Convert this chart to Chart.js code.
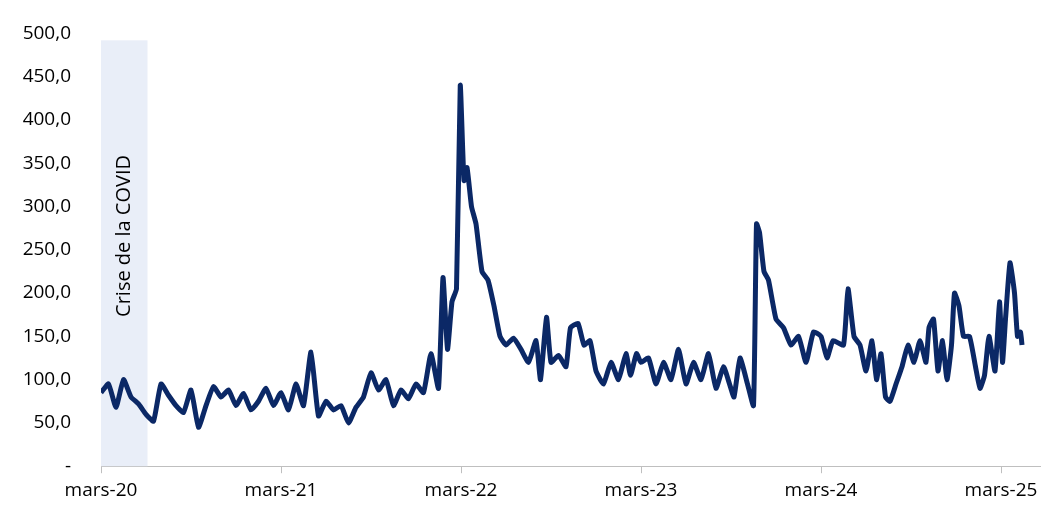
<!DOCTYPE html>
<html>
<head>
<meta charset="utf-8">
<script src="https://cdn.jsdelivr.net/npm/chart.js@4/dist/chart.umd.min.js"></script>
<style>
  html, body { margin: 0; padding: 0; background: #fff; }
  #wrap { width: 1047px; height: 522px; }
</style>
</head>
<body>
<div id="wrap"><canvas id="chart0"></canvas></div>
<script>
// months since mars-20
let months =
[
  0,0.5,1,1.5,2,2.5,3,3.5,4,4.5,5,5.5,6,6.5,7,7.5,8,8.5,9,9.5,10,10.5,11,11.5,
  12,12.5,13,13.5,14,14.5,15,15.5,16,16.5,17,17.5,18,18.5,19,19.5,20,20.5,21,21.5,22,22.5,22.8,23.1,23.4,23.7,23.95,24.2,24.4,24.7,
  25,25.4,25.8,26.2,26.6,27,27.5,28,28.5,29,29.3,29.7,30,30.5,31,31.3,31.8,32.2,32.6,33,33.5,34,34.5,35,35.3,35.7,
  36,36.5,37,37.5,38,38.5,39,39.5,40,40.5,41,41.5,41.9,42.2,42.6,43.1,43.5,43.7,43.9,44.2,44.5,45,45.5,46,46.5,47,47.5,
  48,48.4,48.8,49.5,49.8,50.2,50.6,51,51.4,51.7,52,52.3,52.6,53,53.4,53.8,54.2,54.6,55,55.2,55.5,55.8,56.1,56.4,56.7,56.9,57.2,57.5,57.9,58.3,58.6,58.9,59.2,59.6,59.9,60.1,60.3,60.6,60.9,61.1,61.3,61.4
];
let values =
[
  85,95,68,100,80,72,60,52,95,82,70,62,88,45,70,92,80,88,70,84,65,75,90,70,
  85,65,95,70,132,58,75,65,70,50,68,80,108,88,100,70,88,78,95,85,130,90,218,135,190,205,440,330,345,300,
  280,225,215,185,150,140,148,135,120,145,100,172,120,128,115,160,165,140,145,110,95,120,100,130,105,130,120,
  125,95,120,100,135,95,120,100,130,90,115,95,80,125,95,70,280,270,225,215,170,160,140,150,120,155,150,
  125,145,140,205,150,140,110,145,100,130,80,75,95,115,140,120,145,120,160,170,110,145,100,140,200,185,150,150,115,90,105,150,110,190,120,170,235,200,150,155,140,148
];
let tickMonths = [0, 12, 24, 36, 48, 60];
let tickLabels = ['mars-20', 'mars-21', 'mars-22', 'mars-23', 'mars-24', 'mars-25'];
let bandStart = 0;
let bandEnd = 3.1;
let bandLabel = 'Crise de la COVID';

let pts = [];
for (let i = 0; i < months.length; i++)
{
  pts.push({x: months[i], y: values[i]});
}

const bandPlugin =
{
  id: 'band',
  beforeDatasetsDraw(chart)
  {
    let ctx = chart.ctx;
    let xs = chart.scales.x;
    let ys = chart.scales.y;
    let x0 = xs.getPixelForValue(bandStart);
    let x1 = xs.getPixelForValue(bandEnd);
    let yTop = ys.getPixelForValue(492);
    let yBot = ys.getPixelForValue(0);
    ctx.save();
    ctx.fillStyle = '#e9eef8';
    ctx.fillRect(x0, yTop, x1 - x0, yBot - yTop);
    ctx.translate((x0 + x1) / 2, ys.getPixelForValue(266));
    ctx.rotate(-Math.PI / 2);
    ctx.fillStyle = '#000';
    ctx.font = '20px "Open Sans", sans-serif';
    ctx.textAlign = 'center';
    ctx.textBaseline = 'middle';
    ctx.fillText(bandLabel, 0, 0);
    ctx.restore();
  }
};

new Chart(document.getElementById('chart0'),
{
  type: 'line',
  data: {datasets: [{data: pts, borderColor: '#0b2866', borderWidth: 5, pointRadius: 0, tension: 0.15, fill: false}]},
  plugins: [bandPlugin],
  options:
  {
    responsive: true,
    maintainAspectRatio: false,
    animation: false,
    layout: {padding: {top: 6, right: 7, left: 0, bottom: 14}},
    plugins: {legend: {display: false}, tooltip: {enabled: false}},
    scales:
    {
      x:
      {
        type: 'linear',
        min: 0,
        max: 62.6,
        afterBuildTicks: (axis) => { axis.ticks = tickMonths.map(v => ({value: v})); },
        ticks:
        {
          autoSkip: false,
          maxRotation: 0,
          color: '#000',
          padding: 6,
          font: {family: '"Open Sans", sans-serif', size: 19},
          callback: (v) => tickLabels[tickMonths.indexOf(v)]
        },
        grid: {display: true, drawOnChartArea: false, tickLength: 7, color: '#bfbfbf'},
        border: {display: true, color: '#bfbfbf', width: 1}
      },
      y:
      {
        min: 0,
        max: 500,
        afterFit: (axis) => { axis.width = 101; },
        ticks:
        {
          stepSize: 50,
          color: '#000',
          padding: 22,
          font: {family: '"Open Sans", sans-serif', size: 19},
          callback: (v) => v == 0 ? '-' : v.toFixed(1).replace('.', ',')
        },
        grid: {display: false},
        border: {display: false}
      }
    }
  }
});
</script>
</body>
</html>
